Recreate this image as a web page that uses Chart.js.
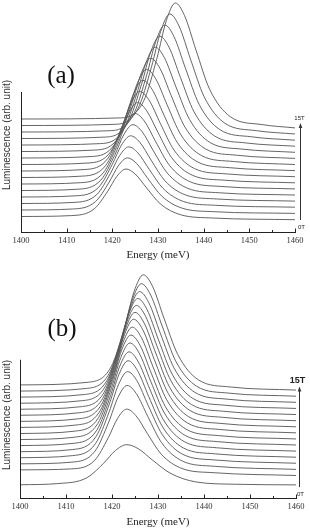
<!DOCTYPE html>
<html>
<head>
<meta charset="utf-8">
<script src="https://cdn.jsdelivr.net/npm/chart.js@4.4.0/dist/chart.umd.min.js"></script>
<style>
html, body { margin: 0; padding: 0; background: #fff; }
#wrapA { position: absolute; left: 0; top: 0; width: 310px; height: 262px; }
#wrapB { position: absolute; left: 0; top: 262px; width: 310px; height: 266px; }
</style>
</head>
<body>
<div id="wrapA"><canvas id="chartA"></canvas></div>
<div id="wrapB"><canvas id="chartB"></canvas></div>
<script>
// Field values of the stacked spectra, bottom (0T) to top (15T)
const fields = ['0T','1T','2T','3T','4T','5T','6T','7T','8T','9T','10T','11T','12T','13T','14T','15T'];
const energyTicks = [1400, 1410, 1420, 1430, 1440, 1450, 1460];

// Panel (a): photon energy (meV) of each sampled point, one row per field
const energiesA = [
  [1400, 1411, 1416, 1419, 1421, 1423, 1425, 1427.5, 1430.5, 1435, 1442, 1460],
  [1400, 1411.3, 1416.3, 1419.3, 1421.3, 1423.3, 1425.3, 1427.8, 1430.8, 1435.3, 1442.3, 1460],
  [1400, 1411.6, 1416.6, 1419.6, 1421.6, 1423.6, 1425.6, 1428.1, 1431.1, 1435.6, 1442.6, 1460],
  [1400, 1412, 1417, 1420, 1422, 1424, 1426, 1428.5, 1431.5, 1436, 1443, 1460],
  [1400, 1412.5, 1417.5, 1420.5, 1422.5, 1424.5, 1426.5, 1429, 1432, 1436.5, 1443.5, 1460],
  [1400, 1413, 1418, 1421, 1423, 1425, 1427, 1429.5, 1432.5, 1437, 1444, 1460],
  [1400, 1413.5, 1418.5, 1421.5, 1423.5, 1425.5, 1427.5, 1430, 1433, 1437.5, 1444.5, 1460],
  [1400, 1414, 1419, 1422, 1424, 1426, 1428, 1430.5, 1433.5, 1438, 1445, 1460],
  [1400, 1414.7, 1419.7, 1422.7, 1424.7, 1426.7, 1428.7, 1431.2, 1434.2, 1438.7, 1445.7, 1460],
  [1400, 1415.5, 1420.5, 1423.5, 1425.5, 1427.5, 1429.5, 1432, 1435, 1439.5, 1446.5, 1460],
  [1400, 1416.4, 1421.4, 1424.4, 1426.4, 1428.4, 1430.4, 1432.9, 1435.9, 1440.4, 1447.4, 1460],
  [1400, 1417.4, 1422.4, 1425.4, 1427.4, 1429.4, 1431.4, 1433.9, 1436.9, 1441.4, 1448.4, 1460],
  [1400, 1418.4, 1423.4, 1426.4, 1428.4, 1430.4, 1432.4, 1434.9, 1437.9, 1442.4, 1449.4, 1460],
  [1400, 1419.5, 1424.5, 1427.5, 1429.5, 1431.5, 1433.5, 1436, 1439, 1443.5, 1450.5, 1460],
  [1400, 1420.6, 1425.6, 1428.6, 1430.6, 1432.6, 1434.6, 1437.1, 1440.1, 1444.6, 1451.6, 1460],
  [1400, 1421.8, 1426.8, 1429.8, 1431.8, 1433.8, 1435.8, 1438.3, 1441.3, 1445.8, 1452.8, 1460]
];
// Panel (a): luminescence (arb. unit, offset per field)
const intensityA = [
  [15.5, 16.4, 23.0, 40.8, 55.7, 63.0, 58.0, 44.1, 28.2, 17.2, 14.0, 12.3],
  [22.0, 23.0, 30.3, 49.8, 66.1, 74.1, 68.6, 53.3, 36.0, 23.8, 20.3, 18.6],
  [28.5, 29.6, 37.5, 58.7, 76.4, 85.1, 79.1, 62.5, 43.6, 30.5, 26.7, 24.8],
  [35.0, 36.2, 44.7, 67.7, 86.9, 96.2, 89.8, 71.8, 51.3, 37.1, 33.0, 30.9],
  [41.5, 42.8, 52.0, 76.6, 97.3, 107.3, 100.4, 81.1, 59.1, 43.7, 39.2, 37.0],
  [48.0, 49.3, 59.1, 85.6, 107.7, 118.4, 111.0, 90.3, 66.7, 50.3, 45.5, 43.1],
  [54.5, 55.9, 66.3, 94.4, 117.9, 129.4, 121.4, 99.5, 74.3, 56.8, 51.8, 49.2],
  [61.0, 62.5, 73.5, 103.4, 128.3, 140.5, 132.1, 108.7, 82.0, 63.4, 58.1, 55.3],
  [67.5, 69.0, 80.7, 112.3, 138.8, 151.6, 142.7, 118.0, 89.7, 70.0, 64.3, 61.4],
  [74.0, 75.5, 87.8, 121.1, 149.0, 162.6, 153.2, 127.1, 97.3, 76.5, 70.5, 67.5],
  [80.5, 82.0, 95.0, 130.1, 159.4, 173.7, 163.8, 136.3, 104.9, 83.1, 76.7, 73.6],
  [87.0, 88.4, 102.0, 138.9, 169.7, 184.8, 174.3, 145.5, 112.6, 89.5, 82.9, 79.7],
  [93.5, 94.9, 109.2, 147.8, 180.1, 195.8, 184.9, 154.7, 120.1, 96.0, 89.0, 85.8],
  [100.0, 101.3, 116.3, 156.6, 190.4, 206.9, 195.4, 163.9, 127.7, 102.5, 95.2, 91.8],
  [106.5, 107.7, 123.3, 165.5, 200.8, 218.0, 206.0, 173.1, 135.3, 108.9, 101.3, 98.0],
  [113.0, 114.1, 130.4, 174.3, 211.1, 229.0, 216.5, 182.2, 142.8, 115.4, 107.4, 104.1]
];

// Panel (b)
const energiesB = [
  [1400, 1408.2, 1414.5, 1418.2, 1420.7, 1423.2, 1425.7, 1428.8, 1432.6, 1438.2, 1447, 1460],
  [1400, 1411.2, 1416.2, 1419.2, 1421.2, 1423.2, 1425.2, 1427.7, 1430.7, 1435.2, 1442.2, 1460],
  [1400, 1411.3, 1416.3, 1419.3, 1421.3, 1423.3, 1425.3, 1427.8, 1430.8, 1435.3, 1442.3, 1460],
  [1400, 1411.4, 1416.4, 1419.4, 1421.4, 1423.4, 1425.4, 1427.9, 1430.9, 1435.4, 1442.4, 1460],
  [1400, 1411.5, 1416.5, 1419.5, 1421.5, 1423.5, 1425.5, 1428, 1431, 1435.5, 1442.5, 1460],
  [1400, 1411.7, 1416.7, 1419.7, 1421.7, 1423.7, 1425.7, 1428.2, 1431.2, 1435.7, 1442.7, 1460],
  [1400, 1411.9, 1416.9, 1419.9, 1421.9, 1423.9, 1425.9, 1428.4, 1431.4, 1435.9, 1442.9, 1460],
  [1400, 1412.1, 1417.1, 1420.1, 1422.1, 1424.1, 1426.1, 1428.6, 1431.6, 1436.1, 1443.1, 1460],
  [1400, 1412.4, 1417.4, 1420.4, 1422.4, 1424.4, 1426.4, 1428.9, 1431.9, 1436.4, 1443.4, 1460],
  [1400, 1412.7, 1417.7, 1420.7, 1422.7, 1424.7, 1426.7, 1429.2, 1432.2, 1436.7, 1443.7, 1460],
  [1400, 1413, 1418, 1421, 1423, 1425, 1427, 1429.5, 1432.5, 1437, 1444, 1460],
  [1400, 1413.3, 1418.3, 1421.3, 1423.3, 1425.3, 1427.3, 1429.8, 1432.8, 1437.3, 1444.3, 1460],
  [1400, 1413.6, 1418.6, 1421.6, 1423.6, 1425.6, 1427.6, 1430.1, 1433.1, 1437.6, 1444.6, 1460],
  [1400, 1414, 1419, 1422, 1424, 1426, 1428, 1430.5, 1433.5, 1438, 1445, 1460],
  [1400, 1414.4, 1419.4, 1422.4, 1424.4, 1426.4, 1428.4, 1430.9, 1433.9, 1438.4, 1445.4, 1460],
  [1400, 1414.8, 1419.8, 1422.8, 1424.8, 1426.8, 1428.8, 1431.3, 1434.3, 1438.8, 1445.8, 1460]
];
const intensityB = [
  [13.4, 14.6, 20.4, 35.3, 47.9, 54.0, 49.9, 38.4, 25.3, 16.3, 13.9, 13.3],
  [28.5, 29.5, 38.0, 61.1, 80.6, 90.0, 83.4, 65.2, 44.4, 29.9, 25.6, 22.8],
  [34.6, 36.3, 47.4, 77.0, 101.9, 114.0, 105.6, 82.4, 55.9, 37.4, 32.1, 29.0],
  [40.8, 42.9, 55.0, 87.5, 114.7, 128.0, 118.9, 93.4, 64.5, 44.2, 38.5, 35.2],
  [46.9, 49.1, 62.0, 96.3, 125.0, 139.0, 129.4, 102.6, 72.0, 50.7, 44.7, 41.3],
  [53.1, 55.4, 68.7, 104.0, 133.6, 148.0, 138.0, 110.5, 79.0, 57.1, 50.9, 47.5],
  [59.2, 61.6, 75.3, 111.7, 142.1, 157.0, 146.8, 118.4, 86.0, 63.4, 57.1, 53.7],
  [65.3, 67.8, 81.6, 118.8, 149.8, 165.0, 154.6, 125.7, 92.6, 69.7, 63.2, 59.8],
  [71.5, 74.0, 88.2, 125.9, 157.5, 173.0, 162.4, 133.0, 99.4, 76.0, 69.4, 66.0],
  [77.6, 80.2, 94.6, 133.1, 165.3, 181.0, 170.3, 140.2, 106.1, 82.2, 75.5, 72.1],
  [83.8, 86.4, 101.0, 139.7, 172.2, 188.0, 177.1, 146.9, 112.4, 88.5, 81.7, 78.3],
  [89.9, 92.5, 107.1, 146.3, 179.0, 195.0, 184.0, 153.6, 118.8, 94.6, 87.8, 84.5],
  [96.0, 98.6, 113.4, 152.9, 185.9, 202.0, 191.0, 160.2, 125.2, 100.8, 93.9, 90.7],
  [102.2, 104.8, 119.7, 159.5, 192.7, 209.0, 197.8, 166.9, 131.5, 107.0, 100.1, 96.9],
  [108.3, 110.9, 126.1, 166.6, 200.5, 217.0, 205.6, 174.2, 138.2, 113.2, 106.2, 103.1],
  [114.5, 117.2, 132.8, 174.3, 209.0, 226.0, 214.5, 182.1, 145.3, 119.6, 112.4, 109.3]
];

// Draws the short y axis, inward ticks, panel letter, y title and field arrow
const panelDeco = {
  id: 'panelDeco',
  afterDraw(chart, args, o) {
    const { ctx, chartArea } = chart;
    const x = chart.scales.x, y = chart.scales.y;
    const yb = Math.round(y.getPixelForValue(0)) + 0.5;
    ctx.save();
    ctx.strokeStyle = '#222';
    ctx.lineWidth = 1;

    const x0 = Math.round(x.getPixelForValue(energyTicks[0])) + 0.5;
    ctx.beginPath();
    ctx.moveTo(x0, yb);
    ctx.lineTo(x0, y.getPixelForValue(o.axisTop));
    ctx.stroke();

    for (let v = energyTicks[0]; v <= energyTicks[energyTicks.length - 1]; v += 5) {
      const px = Math.round(x.getPixelForValue(v)) + 0.5;
      const len = v % 10 === 0 ? 4 : 2.5;
      ctx.beginPath();
      ctx.moveTo(px, yb);
      ctx.lineTo(px, yb - len);
      ctx.stroke();
    }

    ctx.fillStyle = '#111';
    ctx.textAlign = 'center';
    ctx.textBaseline = 'middle';
    ctx.font = '25px "Liberation Serif"';
    ctx.fillText(o.letter, o.letterX, o.letterY);

    ctx.save();
    ctx.translate(o.titleX, o.titleY);
    ctx.rotate(-Math.PI / 2);
    ctx.fillStyle = '#333';
    ctx.font = '10px "Liberation Sans"';
    ctx.fillText('Luminescence (arb. unit)', 0, 0);
    ctx.restore();

    // field arrow 0T -> 15T
    const ax = chartArea.right + o.arrowDx + 0.5;
    const yTop = y.getPixelForValue(o.arrowTop);
    const yBot = y.getPixelForValue(o.arrowBottom);
    ctx.strokeStyle = '#333';
    ctx.beginPath();
    ctx.moveTo(ax, yBot);
    ctx.lineTo(ax, yTop + 3);
    ctx.stroke();
    ctx.fillStyle = '#333';
    ctx.beginPath();
    ctx.moveTo(ax, yTop);
    ctx.lineTo(ax - 1.8, yTop + 5);
    ctx.lineTo(ax + 1.8, yTop + 5);
    ctx.closePath();
    ctx.fill();

    ctx.fillStyle = '#222';
    ctx.font = o.topFont;
    ctx.fillText(fields[fields.length - 1], ax + o.topDx, yTop - o.topGap);
    ctx.font = '6px "Liberation Sans"';
    ctx.fillText(fields[0], ax + 1, yBot + 7);
    ctx.restore();
  }
};

function buildChart(id, energies, intensity, yMax, yWidth, rightPad, titlePad, deco) {
  const datasets = energies.map((row, k) => ({
    label: fields[k],
    data: row.map((e, i) => ({ x: e, y: intensity[k][i] })),
    borderColor: '#555555',
    borderWidth: 0.9,
    pointRadius: 0,
    fill: false,
    cubicInterpolationMode: 'monotone'
  }));

  return new Chart(document.getElementById(id), {
    type: 'line',
    data: { datasets: datasets },
    options: {
      responsive: true,
      maintainAspectRatio: false,
      animation: false,
      layout: { padding: { left: 0, right: rightPad, top: 0, bottom: 0 } },
      plugins: {
        legend: { display: false },
        tooltip: { enabled: false },
        panelDeco: deco
      },
      scales: {
        x: {
          type: 'linear',
          min: 1400,
          max: 1460,
          afterBuildTicks: s => { s.ticks = energyTicks.map(v => ({ value: v })); },
          afterFit: s => { s.height = 30; },
          grid: { display: false, drawTicks: false },
          border: { display: true, color: '#222', width: 1 },
          ticks: {
            color: '#333',
            padding: 4,
            maxRotation: 0,
            callback: v => String(v),
            font: { family: '"Liberation Serif"', size: 8.5 }
          },
          title: {
            display: true,
            text: 'Energy (meV)',
            color: '#222',
            padding: { top: 0, bottom: titlePad },
            font: { family: '"Liberation Serif"', size: 11, lineHeight: 1 }
          }
        },
        y: {
          min: 0,
          max: yMax,
          afterFit: s => { s.width = yWidth; },
          grid: { display: false, drawTicks: false },
          border: { display: false },
          ticks: { display: false }
        }
      }
    },
    plugins: [panelDeco]
  });
}

buildChart('chartA', energiesA, intensityA, 232, 21, 15, 1.5, {
  axisTop: 140, letter: '(a)', letterX: 61, letterY: 76,
  titleX: 7, titleY: 135,
  arrowDx: 5, arrowTop: 109, arrowBottom: 12,
  topFont: '6px "Liberation Sans"', topDx: -1, topGap: 5
});

buildChart('chartB', energiesB, intensityB, 239, 20, 14, 0, {
  axisTop: 140, letter: '(b)', letterX: 62, letterY: 67,
  titleX: 7, titleY: 153,
  arrowDx: 3, arrowTop: 113, arrowBottom: 11,
  topFont: 'bold 9px "Liberation Sans"', topDx: -2, topGap: 6
});
</script>
</body>
</html>
